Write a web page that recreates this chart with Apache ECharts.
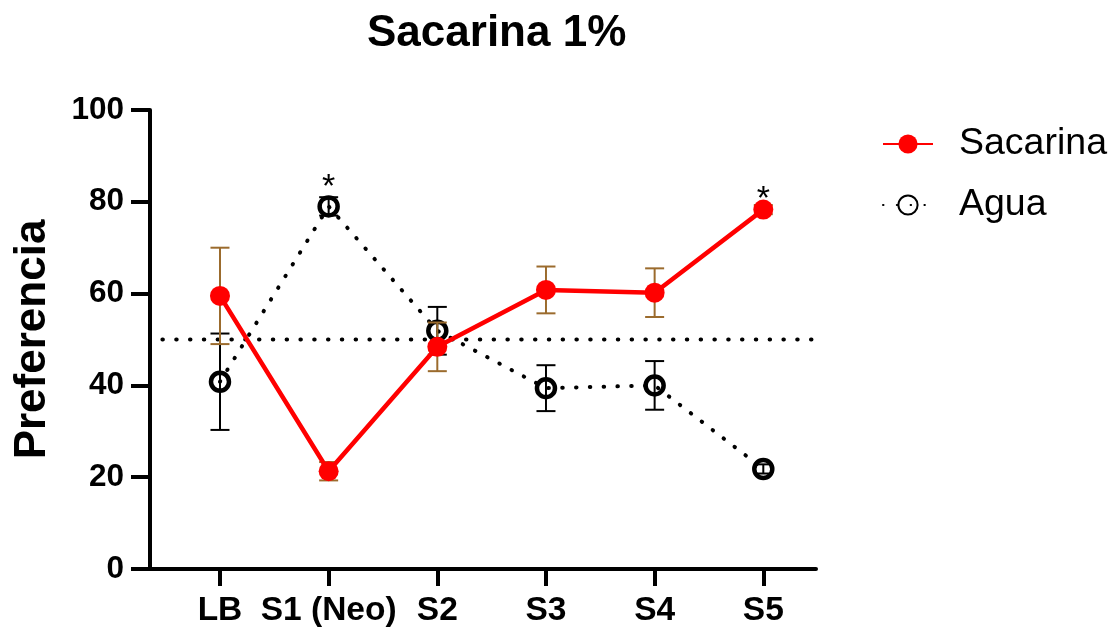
<!DOCTYPE html>
<html>
<head>
<meta charset="utf-8">
<script src="https://cdn.jsdelivr.net/npm/echarts@6/dist/echarts.min.js"></script>
<style>
  html, body { margin: 0; padding: 0; background: #fff; }
  #chart { width: 1112px; height: 628px; }
</style>
</head>
<body>
<div id="chart"></div>
<script>
// Sessions on the x axis
const categories = ['LB', 'S1 (Neo)', 'S2', 'S3', 'S4', 'S5'];

// Mean preference (%) per session
const sacarinaMean = [59.5, 21.3, 48.4, 60.8, 60.2, 78.3];
const sacarinaErr  = [10.5, 2.0, 5.3, 5.1, 5.3, 1.0];
const aguaMean     = [40.8, 79.0, 51.9, 39.4, 40.0, 21.8];
const aguaErr      = [10.5, 2.0, 5.2, 5.0, 5.3, 1.0];

// Indifference level and y ticks
const chanceLevel = 50;
const yTicks = [0, 20, 40, 60, 80, 100];

// Sessions flagged as significant
const sacarinaStars = [5];
const aguaStars = [1];

const FONT = '"Liberation Sans", Arial, Helvetica, sans-serif';
const BROWN = '#9b6b2d';

const xIdx = categories.map((_, i) => i);

function pointData(means, stars, offsetY) {
  return means.map((v, i) => {
    const item = { value: [i, v] };
    if (stars.indexOf(i) >= 0) {
      item.label = {
        show: true, formatter: '*', position: 'inside', offset: [0, offsetY],
        fontFamily: FONT, fontSize: 34, color: '#000'
      };
    }
    return item;
  });
}

function errData(means, errs) {
  return means.map((v, i) => [i, v - errs[i], v + errs[i]]);
}

function errRender(color) {
  return function (params, api) {
    const x = api.value(0);
    const lo = api.coord([x, api.value(1)]);
    const hi = api.coord([x, api.value(2)]);
    const half = 9.5;
    const style = { stroke: color, lineWidth: 2 };
    return {
      type: 'group',
      children: [
        { type: 'line', shape: { x1: lo[0], y1: lo[1], x2: hi[0], y2: hi[1] }, style },
        { type: 'line', shape: { x1: lo[0] - half, y1: lo[1], x2: lo[0] + half, y2: lo[1] }, style },
        { type: 'line', shape: { x1: hi[0] - half, y1: hi[1], x2: hi[0] + half, y2: hi[1] }, style }
      ]
    };
  };
}

const chart = echarts.init(document.getElementById('chart'), null, { renderer: 'canvas' });

chart.setOption({
  animation: false,
  backgroundColor: '#fff',
  title: {
    text: 'Sacarina 1%',
    left: 362, top: 7,
    textStyle: { fontFamily: FONT, fontSize: 44, fontWeight: 'bold', color: '#000' }
  },
  legend: {
    orient: 'vertical',
    left: 877, top: 117,
    itemWidth: 50, itemHeight: 24, itemGap: 17,
    data: ['Sacarina', 'Agua'],
    textStyle: { fontFamily: FONT, fontSize: 37.5, color: '#000', lineHeight: 44, padding: [0, 0, 0, 21] }
  },
  grid: { left: 150, right: 296, top: 110, bottom: 59, containLabel: false },
  xAxis: {
    type: 'value',
    min: -0.644, max: 5.485,
    splitLine: { show: false },
    axisLine: { show: true, onZero: false, lineStyle: { color: '#000', width: 4 } },
    axisTick: { show: true, customValues: xIdx, length: 17, lineStyle: { color: '#000', width: 4 } },
    axisLabel: {
      customValues: xIdx,
      formatter: v => categories[Math.round(v)] || '',
      margin: 25,
      fontFamily: FONT, fontSize: 33.5, fontWeight: 'bold', color: '#000'
    }
  },
  yAxis: {
    type: 'value',
    min: yTicks[0], max: yTicks[yTicks.length - 1], interval: 20,
    name: 'Preferencia',
    nameLocation: 'middle', nameRotate: 90, nameGap: 95,
    nameTextStyle: { fontFamily: FONT, fontSize: 44, fontWeight: 'bold', color: '#000' },
    splitLine: { show: false },
    axisLine: { show: true, onZero: false, lineStyle: { color: '#000', width: 4 } },
    axisTick: { show: true, length: 19, lineStyle: { color: '#000', width: 4 } },
    axisLabel: { margin: 26, fontFamily: FONT, fontSize: 31.5, fontWeight: 'bold', color: '#000' }
  },
  series: [
    {
      name: 'chance',
      type: 'line',
      data: [[-0.53, chanceLevel], [5.58, chanceLevel]],
      symbol: 'none',
      clip: false,
      silent: true,
      lineStyle: { color: '#000', width: 4, type: [0.5, 13.3], cap: 'round' },
      z: 1
    },
    {
      name: 'aguaErr',
      type: 'custom',
      data: errData(aguaMean, aguaErr),
      renderItem: errRender('#000'),
      clip: false,
      z: 2
    },
    {
      name: 'Agua',
      type: 'line',
      data: pointData(aguaMean, aguaStars, -19),
      symbol: 'circle',
      symbolSize: 18,
      clip: false,
      itemStyle: { color: 'rgba(255,255,255,0)', borderColor: '#000', borderWidth: 4.5 },
      lineStyle: { color: '#000', width: 4, type: [0.5, 13.3], cap: 'round' },
      z: 3
    },
    {
      name: 'sacErr',
      type: 'custom',
      data: errData(sacarinaMean, sacarinaErr),
      renderItem: errRender(BROWN),
      clip: false,
      z: 4
    },
    {
      name: 'Sacarina',
      type: 'line',
      data: pointData(sacarinaMean, sacarinaStars, -10),
      symbol: 'circle',
      symbolSize: 20,
      clip: false,
      itemStyle: { color: '#ff0000', borderWidth: 0 },
      lineStyle: { color: '#ff0000', width: 4.5 },
      z: 5
    }
  ]
});
</script>
</body>
</html>
